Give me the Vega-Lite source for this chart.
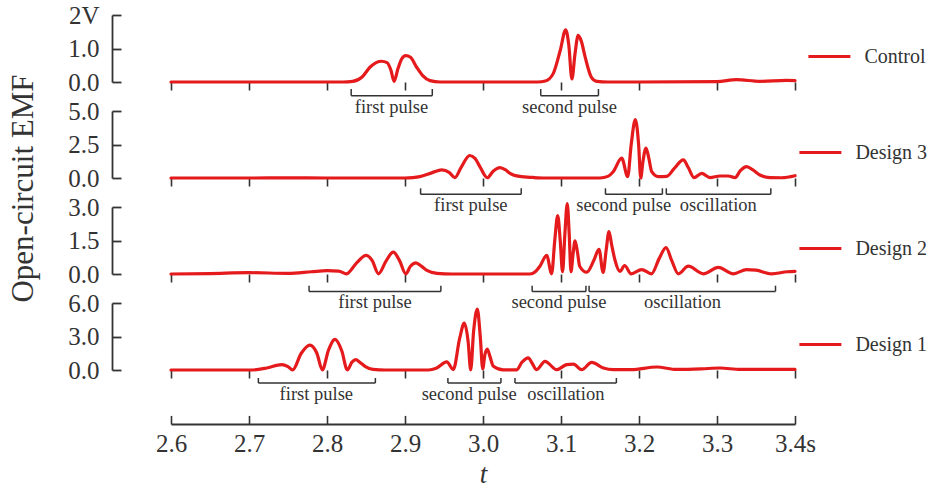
{
  "$schema": "https://vega.github.io/schema/vega-lite/v6.json",
  "padding": {"left": 7, "top": 3, "right": 2, "bottom": 12},
  "background": "white",
  "config": {"view": {"stroke": null}, "font": "Liberation Serif"},
  "datasets": {
    "emf": [
      {"series":"Control","t":2.6,"v":0},{"series":"Control","t":2.7,"v":0},{"series":"Control","t":2.8,"v":0},{"series":"Control","t":2.82,"v":0},{"series":"Control","t":2.833,"v":0.02},{"series":"Control","t":2.845,"v":0.15},{"series":"Control","t":2.855,"v":0.44},{"series":"Control","t":2.863,"v":0.58},{"series":"Control","t":2.87,"v":0.62},{"series":"Control","t":2.877,"v":0.58},{"series":"Control","t":2.882,"v":0.35},{"series":"Control","t":2.886,"v":0.02},{"series":"Control","t":2.891,"v":0.4},{"series":"Control","t":2.896,"v":0.7},{"series":"Control","t":2.901,"v":0.79},{"series":"Control","t":2.907,"v":0.74},{"series":"Control","t":2.915,"v":0.44},{"series":"Control","t":2.923,"v":0.18},{"series":"Control","t":2.932,"v":0.04},{"series":"Control","t":2.945,"v":0},{"series":"Control","t":3.0,"v":0},{"series":"Control","t":3.07,"v":0},{"series":"Control","t":3.08,"v":0.03},{"series":"Control","t":3.09,"v":0.25},{"series":"Control","t":3.099,"v":0.94},{"series":"Control","t":3.106,"v":1.56},{"series":"Control","t":3.11,"v":1.1},{"series":"Control","t":3.114,"v":0.09},{"series":"Control","t":3.118,"v":0.85},{"series":"Control","t":3.122,"v":1.39},{"series":"Control","t":3.126,"v":1.22},{"series":"Control","t":3.131,"v":0.74},{"series":"Control","t":3.139,"v":0.14},{"series":"Control","t":3.146,"v":0.02},{"series":"Control","t":3.16,"v":0},{"series":"Control","t":3.2,"v":0},{"series":"Control","t":3.3,"v":0.01},{"series":"Control","t":3.325,"v":0.07},{"series":"Control","t":3.355,"v":0.02},{"series":"Control","t":3.389,"v":0.05},{"series":"Control","t":3.4,"v":0.04},
      {"series":"Design 3","t":2.6,"v":0},{"series":"Design 3","t":2.7,"v":0},{"series":"Design 3","t":2.75,"v":0.01},{"series":"Design 3","t":2.8,"v":0},{"series":"Design 3","t":2.9,"v":0},{"series":"Design 3","t":2.91,"v":0.03},{"series":"Design 3","t":2.919,"v":0.1},{"series":"Design 3","t":2.935,"v":0.4},{"series":"Design 3","t":2.947,"v":0.6},{"series":"Design 3","t":2.957,"v":0.4},{"series":"Design 3","t":2.964,"v":0.03},{"series":"Design 3","t":2.972,"v":0.8},{"series":"Design 3","t":2.983,"v":1.68},{"series":"Design 3","t":2.99,"v":1.45},{"series":"Design 3","t":2.996,"v":0.85},{"series":"Design 3","t":3.0055,"v":0.02},{"series":"Design 3","t":3.013,"v":0.5},{"series":"Design 3","t":3.0218,"v":0.77},{"series":"Design 3","t":3.029,"v":0.6},{"series":"Design 3","t":3.0346,"v":0.35},{"series":"Design 3","t":3.047,"v":0.12},{"series":"Design 3","t":3.064,"v":0.04},{"series":"Design 3","t":3.08,"v":0},{"series":"Design 3","t":3.15,"v":0},{"series":"Design 3","t":3.16,"v":0.12},{"series":"Design 3","t":3.167,"v":0.47},{"series":"Design 3","t":3.1778,"v":1.48},{"series":"Design 3","t":3.1855,"v":0.1},{"series":"Design 3","t":3.19,"v":2.5},{"series":"Design 3","t":3.1953,"v":4.36},{"series":"Design 3","t":3.1995,"v":2.5},{"series":"Design 3","t":3.2022,"v":0},{"series":"Design 3","t":3.205,"v":1.2},{"series":"Design 3","t":3.209,"v":2.23},{"series":"Design 3","t":3.2125,"v":1.5},{"series":"Design 3","t":3.2163,"v":0.47},{"series":"Design 3","t":3.2248,"v":0.1},{"series":"Design 3","t":3.2355,"v":0.12},{"series":"Design 3","t":3.245,"v":0.7},{"series":"Design 3","t":3.2568,"v":1.35},{"series":"Design 3","t":3.263,"v":0.8},{"series":"Design 3","t":3.2705,"v":0.03},{"series":"Design 3","t":3.2804,"v":0.35},{"series":"Design 3","t":3.291,"v":0.03},{"series":"Design 3","t":3.3038,"v":0.15},{"series":"Design 3","t":3.3145,"v":0.15},{"series":"Design 3","t":3.3231,"v":0.02},{"series":"Design 3","t":3.33,"v":0.55},{"series":"Design 3","t":3.338,"v":0.85},{"series":"Design 3","t":3.346,"v":0.6},{"series":"Design 3","t":3.355,"v":0.22},{"series":"Design 3","t":3.368,"v":0.03},{"series":"Design 3","t":3.383,"v":0.02},{"series":"Design 3","t":3.4,"v":0.17},
      {"series":"Design 2","t":2.6,"v":0},{"series":"Design 2","t":2.65,"v":0.02},{"series":"Design 2","t":2.7,"v":0.06},{"series":"Design 2","t":2.75,"v":0.03},{"series":"Design 2","t":2.78,"v":0.1},{"series":"Design 2","t":2.8,"v":0.15},{"series":"Design 2","t":2.815,"v":0.13},{"series":"Design 2","t":2.825,"v":0.01},{"series":"Design 2","t":2.838,"v":0.5},{"series":"Design 2","t":2.85,"v":0.83},{"series":"Design 2","t":2.858,"v":0.6},{"series":"Design 2","t":2.866,"v":0.01},{"series":"Design 2","t":2.876,"v":0.6},{"series":"Design 2","t":2.885,"v":0.98},{"series":"Design 2","t":2.893,"v":0.6},{"series":"Design 2","t":2.901,"v":0.01},{"series":"Design 2","t":2.907,"v":0.35},{"series":"Design 2","t":2.914,"v":0.5},{"series":"Design 2","t":2.921,"v":0.35},{"series":"Design 2","t":2.928,"v":0.16},{"series":"Design 2","t":2.941,"v":0.03},{"series":"Design 2","t":2.96,"v":0},{"series":"Design 2","t":3.06,"v":0},{"series":"Design 2","t":3.067,"v":0.1},{"series":"Design 2","t":3.073,"v":0.35},{"series":"Design 2","t":3.0817,"v":0.83},{"series":"Design 2","t":3.088,"v":0.01},{"series":"Design 2","t":3.092,"v":1.5},{"series":"Design 2","t":3.0958,"v":2.62},{"series":"Design 2","t":3.099,"v":1.5},{"series":"Design 2","t":3.102,"v":0.1},{"series":"Design 2","t":3.105,"v":1.8},{"series":"Design 2","t":3.108,"v":3.15},{"series":"Design 2","t":3.1105,"v":1.8},{"series":"Design 2","t":3.1128,"v":0.1},{"series":"Design 2","t":3.1155,"v":0.9},{"series":"Design 2","t":3.118,"v":1.48},{"series":"Design 2","t":3.121,"v":1.0},{"series":"Design 2","t":3.124,"v":0.35},{"series":"Design 2","t":3.133,"v":0.08},{"series":"Design 2","t":3.142,"v":0.6},{"series":"Design 2","t":3.1487,"v":1.1},{"series":"Design 2","t":3.154,"v":0.07},{"series":"Design 2","t":3.158,"v":1.1},{"series":"Design 2","t":3.1615,"v":1.9},{"series":"Design 2","t":3.165,"v":1.3},{"series":"Design 2","t":3.169,"v":0.65},{"series":"Design 2","t":3.1756,"v":0.12},{"series":"Design 2","t":3.1815,"v":0.38},{"series":"Design 2","t":3.19,"v":0.01},{"series":"Design 2","t":3.2035,"v":0.2},{"series":"Design 2","t":3.216,"v":0.01},{"series":"Design 2","t":3.226,"v":0.7},{"series":"Design 2","t":3.2346,"v":1.18},{"series":"Design 2","t":3.242,"v":0.6},{"series":"Design 2","t":3.2504,"v":0.01},{"series":"Design 2","t":3.2632,"v":0.35},{"series":"Design 2","t":3.2825,"v":0.01},{"series":"Design 2","t":3.3017,"v":0.3},{"series":"Design 2","t":3.321,"v":0.01},{"series":"Design 2","t":3.338,"v":0.2},{"series":"Design 2","t":3.35,"v":0.17},{"series":"Design 2","t":3.37,"v":0.01},{"series":"Design 2","t":3.39,"v":0.1},{"series":"Design 2","t":3.4,"v":0.12},
      {"series":"Design 1","t":2.6,"v":0},{"series":"Design 1","t":2.7,"v":0},{"series":"Design 1","t":2.71,"v":0.03},{"series":"Design 1","t":2.7227,"v":0.18},{"series":"Design 1","t":2.742,"v":0.48},{"series":"Design 1","t":2.75,"v":0.3},{"series":"Design 1","t":2.756,"v":0.01},{"series":"Design 1","t":2.767,"v":1.5},{"series":"Design 1","t":2.778,"v":2.23},{"series":"Design 1","t":2.787,"v":1.5},{"series":"Design 1","t":2.794,"v":0.01},{"series":"Design 1","t":2.802,"v":1.8},{"series":"Design 1","t":2.8103,"v":2.74},{"series":"Design 1","t":2.819,"v":1.7},{"series":"Design 1","t":2.826,"v":0.01},{"series":"Design 1","t":2.832,"v":0.7},{"series":"Design 1","t":2.837,"v":0.93},{"series":"Design 1","t":2.842,"v":0.7},{"series":"Design 1","t":2.8487,"v":0.33},{"series":"Design 1","t":2.859,"v":0.05},{"series":"Design 1","t":2.875,"v":0},{"series":"Design 1","t":2.93,"v":0},{"series":"Design 1","t":2.94,"v":0.15},{"series":"Design 1","t":2.9535,"v":0.72},{"series":"Design 1","t":2.962,"v":0.05},{"series":"Design 1","t":2.97,"v":2.8},{"series":"Design 1","t":2.976,"v":4.19},{"series":"Design 1","t":2.981,"v":2.5},{"series":"Design 1","t":2.9842,"v":0.01},{"series":"Design 1","t":2.988,"v":3.5},{"series":"Design 1","t":2.9927,"v":5.46},{"series":"Design 1","t":2.9965,"v":3.0},{"series":"Design 1","t":2.9996,"v":0.1},{"series":"Design 1","t":3.0025,"v":1.4},{"series":"Design 1","t":3.0055,"v":1.88},{"series":"Design 1","t":3.009,"v":1.2},{"series":"Design 1","t":3.0133,"v":0.33},{"series":"Design 1","t":3.026,"v":0.01},{"series":"Design 1","t":3.043,"v":0.02},{"series":"Design 1","t":3.05,"v":0.7},{"series":"Design 1","t":3.058,"v":1.09},{"series":"Design 1","t":3.063,"v":0.6},{"series":"Design 1","t":3.0688,"v":0.03},{"series":"Design 1","t":3.0795,"v":0.78},{"series":"Design 1","t":3.0945,"v":0.03},{"series":"Design 1","t":3.1073,"v":0.48},{"series":"Design 1","t":3.1158,"v":0.52},{"series":"Design 1","t":3.1265,"v":0.03},{"series":"Design 1","t":3.1394,"v":0.69},{"series":"Design 1","t":3.1543,"v":0.18},{"series":"Design 1","t":3.167,"v":0.03},{"series":"Design 1","t":3.19,"v":0.03},{"series":"Design 1","t":3.2227,"v":0.27},{"series":"Design 1","t":3.2483,"v":0.05},{"series":"Design 1","t":3.28,"v":0.1},{"series":"Design 1","t":3.3038,"v":0.18},{"series":"Design 1","t":3.33,"v":0.05},{"series":"Design 1","t":3.4,"v":0.05}
    ],
    "notes": [
      {"series":"Control","label":"first pulse","start":2.831,"end":2.935,"at":2.8827},
      {"series":"Control","label":"second pulse","start":3.074,"end":3.148,"at":3.1109},
      {"series":"Design 3","label":"first pulse","start":2.92,"end":3.049,"at":2.9844},
      {"series":"Design 3","label":"second pulse","start":3.157,"end":3.23,"at":3.1804},
      {"series":"Design 3","label":"oscillation","start":3.235,"end":3.369,"at":3.3017},
      {"series":"Design 2","label":"first pulse","start":2.777,"end":2.946,"at":2.8615},
      {"series":"Design 2","label":"second pulse","start":3.063,"end":3.132,"at":3.0974},
      {"series":"Design 2","label":"oscillation","start":3.136,"end":3.375,"at":3.2558},
      {"series":"Design 1","label":"first pulse","start":2.712,"end":2.862,"at":2.7863},
      {"series":"Design 1","label":"second pulse","start":2.955,"end":3.023,"at":2.9823},
      {"series":"Design 1","label":"oscillation","start":3.041,"end":3.171,"at":3.1062}
    ]
  },
  "vconcat": [
    {
      "width": 624, "height": 67,
      "layer": [
        {
          "data": {"name": "emf"},
          "transform": [{"filter": "datum.series === 'Control'"}],
          "mark": {"type": "line", "interpolate": "monotone", "strokeWidth": 3.2, "strokeJoin": "round", "strokeCap": "round"},
          "encoding": {
            "x": {"field": "t", "type": "quantitative", "scale": {"domain": [2.6, 3.4], "nice": false, "zero": false},
                  "axis": {"orient": "bottom", "values": [2.6,2.7,2.8,2.9,3.0,3.1,3.2,3.3,3.4], "domain": false, "labels": false, "tickSize": 8, "tickColor": "#333", "tickWidth": 1.6, "title": null, "grid": false}},
            "y": {"field": "v", "type": "quantitative", "scale": {"domain": [0, 2], "nice": false},
                  "axis": {"orient": "left", "offset": 59, "values": [0,1,2], "domainColor": "#333", "domainWidth": 1.8, "tickSize": -9, "tickWidth": 1.8, "tickColor": "#333", "labelPadding": 22, "labelFontSize": 25, "labelColor": "#333", "labelOverlap": false, "labelExpr": "datum.value == 2 ? '2V' : format(datum.value, '.1f')", "title": null, "grid": false}},
            "color": {"field": "series", "type": "nominal", "scale": {"range": ["#e41a1c"]},
                      "legend": {"orient": "none", "legendX": 635.4, "legendY": 18.5, "title": null, "padding": 0, "symbolType": "stroke", "symbolSize": 1764, "symbolStrokeWidth": 3.2, "labelFontSize": 20, "labelOffset": 12, "labelColor": "#333", "labelLimit": 300}}
          }
        },
        {
          "data": {"name": "notes"},
          "transform": [{"filter": "datum.series === 'Control'"}],
          "mark": {"type": "rule", "yOffset": 13.7, "color": "#333", "strokeWidth": 1.5},
          "encoding": {"x": {"field": "start", "type": "quantitative", "axis": null}, "x2": {"field": "end"}, "y": {"datum": 0, "axis": null}}
        },
        {
          "data": {"name": "notes"},
          "transform": [{"filter": "datum.series === 'Control'"}, {"fold": ["start", "end"], "as": ["edge", "tt"]}],
          "mark": {"type": "rule", "yOffset": 7, "y2Offset": 13.7, "color": "#333", "strokeWidth": 1.5},
          "encoding": {"x": {"field": "tt", "type": "quantitative", "axis": null}, "y": {"datum": 0, "axis": null}, "y2": {"datum": 0}}
        },
        {
          "data": {"name": "notes"},
          "transform": [{"filter": "datum.series === 'Control'"}],
          "mark": {"type": "text", "yOffset": 24.7, "fontSize": 18.5, "color": "#333", "baseline": "middle", "align": "center"},
          "encoding": {"x": {"field": "at", "type": "quantitative", "axis": null}, "y": {"datum": 0, "axis": null}, "text": {"field": "label"}}
        }
      ],
      "resolve": {"axis": {"x": "independent", "y": "independent"}}
    },
    {
      "width": 624, "height": 67,
      "layer": [
        {
          "data": {"name": "emf"},
          "transform": [{"filter": "datum.series === 'Design 3'"}],
          "mark": {"type": "line", "interpolate": "monotone", "strokeWidth": 3.2, "strokeJoin": "round", "strokeCap": "round"},
          "encoding": {
            "x": {"field": "t", "type": "quantitative", "scale": {"domain": [2.6, 3.4], "nice": false, "zero": false},
                  "axis": {"orient": "bottom", "values": [2.6,2.7,2.8,2.9,3.0,3.1,3.2,3.3,3.4], "domain": false, "labels": false, "tickSize": 8, "tickColor": "#333", "tickWidth": 1.6, "title": null, "grid": false}},
            "y": {"field": "v", "type": "quantitative", "scale": {"domain": [0, 5], "nice": false},
                  "axis": {"orient": "left", "offset": 59, "values": [0,2.5,5], "domainColor": "#333", "domainWidth": 1.8, "tickSize": -9, "tickWidth": 1.8, "tickColor": "#333", "labelPadding": 22, "labelFontSize": 25, "labelColor": "#333", "labelOverlap": false, "labelExpr": "format(datum.value, '.1f')", "title": "Open-circuit EMF", "titleFontSize": 31, "titleFontWeight": "normal", "titleColor": "#333", "titleX": -89, "titleY": 77, "titleBaseline": "middle", "titleAlign": "center", "titleAngle": 270, "grid": false}},
            "color": {"field": "series", "type": "nominal", "scale": {"range": ["#e41a1c"]},
                      "legend": {"orient": "none", "legendX": 626.4, "legendY": 18.5, "title": null, "padding": 0, "symbolType": "stroke", "symbolSize": 1764, "symbolStrokeWidth": 3.2, "labelFontSize": 20, "labelOffset": 12, "labelColor": "#333", "labelLimit": 300}}
          }
        },
        {
          "data": {"name": "notes"},
          "transform": [{"filter": "datum.series === 'Design 3'"}],
          "mark": {"type": "rule", "yOffset": 16.3, "color": "#333", "strokeWidth": 1.5},
          "encoding": {"x": {"field": "start", "type": "quantitative", "axis": null}, "x2": {"field": "end"}, "y": {"datum": 0, "axis": null}}
        },
        {
          "data": {"name": "notes"},
          "transform": [{"filter": "datum.series === 'Design 3'"}, {"fold": ["start", "end"], "as": ["edge", "tt"]}],
          "mark": {"type": "rule", "yOffset": 10.3, "y2Offset": 16.3, "color": "#333", "strokeWidth": 1.5},
          "encoding": {"x": {"field": "tt", "type": "quantitative", "axis": null}, "y": {"datum": 0, "axis": null}, "y2": {"datum": 0}}
        },
        {
          "data": {"name": "notes"},
          "transform": [{"filter": "datum.series === 'Design 3'"}],
          "mark": {"type": "text", "yOffset": 27, "fontSize": 18.5, "color": "#333", "baseline": "middle", "align": "center"},
          "encoding": {"x": {"field": "at", "type": "quantitative", "axis": null}, "y": {"datum": 0, "axis": null}, "text": {"field": "label"}}
        }
      ],
      "resolve": {"axis": {"x": "independent", "y": "independent"}}
    },
    {
      "width": 624, "height": 67,
      "layer": [
        {
          "data": {"name": "emf"},
          "transform": [{"filter": "datum.series === 'Design 2'"}],
          "mark": {"type": "line", "interpolate": "monotone", "strokeWidth": 3.2, "strokeJoin": "round", "strokeCap": "round"},
          "encoding": {
            "x": {"field": "t", "type": "quantitative", "scale": {"domain": [2.6, 3.4], "nice": false, "zero": false},
                  "axis": {"orient": "bottom", "values": [2.6,2.7,2.8,2.9,3.0,3.1,3.2,3.3,3.4], "domain": false, "labels": false, "tickSize": 8, "tickColor": "#333", "tickWidth": 1.6, "title": null, "grid": false}},
            "y": {"field": "v", "type": "quantitative", "scale": {"domain": [0, 3], "nice": false},
                  "axis": {"orient": "left", "offset": 59, "values": [0,1.5,3], "domainColor": "#333", "domainWidth": 1.8, "tickSize": -9, "tickWidth": 1.8, "tickColor": "#333", "labelPadding": 22, "labelFontSize": 25, "labelColor": "#333", "labelOverlap": false, "labelExpr": "format(datum.value, '.1f')", "title": null, "grid": false}},
            "color": {"field": "series", "type": "nominal", "scale": {"range": ["#e41a1c"]},
                      "legend": {"orient": "none", "legendX": 626.4, "legendY": 18.5, "title": null, "padding": 0, "symbolType": "stroke", "symbolSize": 1764, "symbolStrokeWidth": 3.2, "labelFontSize": 20, "labelOffset": 12, "labelColor": "#333", "labelLimit": 300}}
          }
        },
        {
          "data": {"name": "notes"},
          "transform": [{"filter": "datum.series === 'Design 2'"}],
          "mark": {"type": "rule", "yOffset": 17.4, "color": "#333", "strokeWidth": 1.5},
          "encoding": {"x": {"field": "start", "type": "quantitative", "axis": null}, "x2": {"field": "end"}, "y": {"datum": 0, "axis": null}}
        },
        {
          "data": {"name": "notes"},
          "transform": [{"filter": "datum.series === 'Design 2'"}, {"fold": ["start", "end"], "as": ["edge", "tt"]}],
          "mark": {"type": "rule", "yOffset": 11.7, "y2Offset": 17.4, "color": "#333", "strokeWidth": 1.5},
          "encoding": {"x": {"field": "tt", "type": "quantitative", "axis": null}, "y": {"datum": 0, "axis": null}, "y2": {"datum": 0}}
        },
        {
          "data": {"name": "notes"},
          "transform": [{"filter": "datum.series === 'Design 2'"}],
          "mark": {"type": "text", "yOffset": 28.4, "fontSize": 18.5, "color": "#333", "baseline": "middle", "align": "center"},
          "encoding": {"x": {"field": "at", "type": "quantitative", "axis": null}, "y": {"datum": 0, "axis": null}, "text": {"field": "label"}}
        }
      ],
      "resolve": {"axis": {"x": "independent", "y": "independent"}}
    },
    {
      "width": 624, "height": 67,
      "layer": [
        {
          "data": {"name": "emf"},
          "transform": [{"filter": "datum.series === 'Design 1'"}],
          "mark": {"type": "line", "interpolate": "monotone", "strokeWidth": 3.2, "strokeJoin": "round", "strokeCap": "round"},
          "encoding": {
            "x": {"field": "t", "type": "quantitative", "scale": {"domain": [2.6, 3.4], "nice": false, "zero": false},
                  "axis": {"orient": "bottom", "values": [2.6,2.7,2.8,2.9,3.0,3.1,3.2,3.3,3.4], "domain": false, "labels": false, "tickSize": 8, "tickColor": "#333", "tickWidth": 1.6, "title": null, "grid": false}},
            "y": {"field": "v", "type": "quantitative", "scale": {"domain": [0, 6], "nice": false},
                  "axis": {"orient": "left", "offset": 59, "values": [0,3,6], "domainColor": "#333", "domainWidth": 1.8, "tickSize": -9, "tickWidth": 1.8, "tickColor": "#333", "labelPadding": 22, "labelFontSize": 25, "labelColor": "#333", "labelOverlap": false, "labelExpr": "format(datum.value, '.1f')", "title": null, "grid": false}},
            "color": {"field": "series", "type": "nominal", "scale": {"range": ["#e41a1c"]},
                      "legend": {"orient": "none", "legendX": 626.4, "legendY": 18.5, "title": null, "padding": 0, "symbolType": "stroke", "symbolSize": 1764, "symbolStrokeWidth": 3.2, "labelFontSize": 20, "labelOffset": 12, "labelColor": "#333", "labelLimit": 300}}
          }
        },
        {
          "data": {"name": "notes"},
          "transform": [{"filter": "datum.series === 'Design 1'"}],
          "mark": {"type": "rule", "yOffset": 13, "color": "#333", "strokeWidth": 1.5},
          "encoding": {
            "x": {"field": "start", "type": "quantitative",
                  "axis": {"orient": "bottom", "offset": 54, "values": [2.6,2.7,2.8,2.9,3.0,3.1,3.2,3.3,3.4], "domain": true, "domainColor": "#333", "domainWidth": 2, "tickSize": -8.6, "tickColor": "#333", "tickWidth": 1.6, "labelPadding": 16.5, "labelFontSize": 25, "labelColor": "#333", "labelOverlap": false, "labelFlush": false, "labelExpr": "datum.value == 3.4 ? '3.4s' : format(datum.value, '.1f')", "title": "t", "titleFontSize": 27, "titleFontStyle": "italic", "titleFontWeight": "normal", "titleColor": "#333", "titleY": 50, "titleBaseline": "middle", "grid": false}},
            "x2": {"field": "end"}, "y": {"datum": 0, "axis": null}}
        },
        {
          "data": {"name": "notes"},
          "transform": [{"filter": "datum.series === 'Design 1'"}, {"fold": ["start", "end"], "as": ["edge", "tt"]}],
          "mark": {"type": "rule", "yOffset": 8, "y2Offset": 13, "color": "#333", "strokeWidth": 1.5},
          "encoding": {"x": {"field": "tt", "type": "quantitative", "axis": null}, "y": {"datum": 0, "axis": null}, "y2": {"datum": 0}}
        },
        {
          "data": {"name": "notes"},
          "transform": [{"filter": "datum.series === 'Design 1'"}],
          "mark": {"type": "text", "yOffset": 24, "fontSize": 18.5, "color": "#333", "baseline": "middle", "align": "center"},
          "encoding": {"x": {"field": "at", "type": "quantitative", "axis": null}, "y": {"datum": 0, "axis": null}, "text": {"field": "label"}}
        }
      ],
      "resolve": {"axis": {"x": "independent", "y": "independent"}}
    }
  ],
  "spacing": 29,
  "bounds": "flush",
  "resolve": {"scale": {"color": "independent"}, "legend": {"color": "independent"}}
}
